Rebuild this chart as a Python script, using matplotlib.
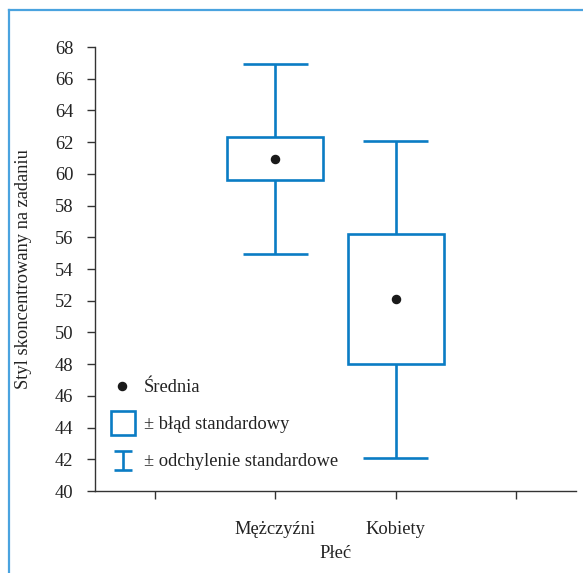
import numpy as np
import matplotlib
matplotlib.use("Agg")
import matplotlib.pyplot as plt
from matplotlib.lines import Line2D
from matplotlib.patches import Rectangle

# ----------------------------
# Data
# ----------------------------
groups = ["Mężczyźni", "Kobiety"]
positions = [2, 3]
means = [60.95, 52.1]
std_err = [1.35, 4.1]
std_dev = [6.0, 10.0]

y_ticks = np.arange(40, 69, 2)
x_ticks = [1, 2, 3, 4]

BLUE = "#0a7cc4"
FRAME = "#4aa3df"
AXC = "#333333"
TXT = "#222222"

plt.rcParams["font.family"] = ["Liberation Serif", "DejaVu Serif"]
plt.rcParams["font.size"] = 13.3

fig = plt.figure(figsize=(5.83, 5.73), dpi=100)
ax = fig.add_axes([95 / 583, 82 / 573, 481 / 583, 444 / 573])

box_w = 0.8
cap_w = 0.54

# boxes (± standard error) and whiskers (± standard deviation)
ax.bar(positions, [2 * s for s in std_err],
       bottom=[m - s for m, s in zip(means, std_err)],
       width=box_w, facecolor="white", edgecolor=BLUE, linewidth=1.9, zorder=2)
for x, m, se, sd in zip(positions, means, std_err, std_dev):
    ax.vlines(x, m + se, m + sd, color=BLUE, lw=1.9, zorder=1)
    ax.vlines(x, m - sd, m - se, color=BLUE, lw=1.9, zorder=1)
    ax.hlines([m + sd, m - sd], x - cap_w / 2, x + cap_w / 2, color=BLUE, lw=1.9)
ax.scatter(positions, means, s=34, color="#1a1a1a", zorder=3)

ax.set_xlim(0.5, 4.5)
ax.set_ylim(40, 68)
ax.set_yticks(y_ticks)
ax.set_xticks(x_ticks)
ax.set_xticklabels(["", groups[0], groups[1], ""])

for side in ["top", "right"]:
    ax.spines[side].set_visible(False)
for side in ["left", "bottom"]:
    ax.spines[side].set_color(AXC)
    ax.spines[side].set_linewidth(1.0)
ax.tick_params(axis="y", direction="out", length=6, width=1, pad=9.5, colors=AXC, labelcolor=TXT)
ax.tick_params(axis="x", direction="out", length=6, width=1, pad=15.5, colors=AXC, labelcolor=TXT)

ax.set_ylabel("Styl skoncentrowany na zadaniu", color=TXT)
ax.yaxis.set_label_coords(-0.131, 0.5)
ax.set_xlabel("Płeć", color=TXT, va="center")
ax.xaxis.set_label_coords(0.5, -0.14)

# legend drawn by hand
ax.scatter([0.725], [46.62], s=34, color="#1a1a1a", clip_on=False)
ax.text(0.905, 46.55, "Średnia", va="center", ha="left", color=TXT)
ax.add_patch(Rectangle((0.635, 43.55), 0.195, 1.5, facecolor="white",
                       edgecolor=BLUE, linewidth=1.9))
ax.text(0.905, 44.2, "± błąd standardowy", va="center", ha="left", color=TXT)
ax.vlines(0.733, 41.3, 42.5, color=BLUE, lw=1.9)
ax.hlines([41.3, 42.5], 0.66, 0.806, color=BLUE, lw=1.9)
ax.text(0.905, 41.85, "± odchylenie standardowe", va="center", ha="left", color=TXT)

# light blue frame around the figure (open at right/bottom edges)
fig.add_artist(Line2D([9 / 583, 9 / 583], [0, 1 - 10 / 573], color=FRAME, lw=1.6,
                      transform=fig.transFigure))
fig.add_artist(Line2D([9 / 583, 1.0], [1 - 10 / 573, 1 - 10 / 573], color=FRAME, lw=1.6,
                      transform=fig.transFigure))

fig.savefig("out.png", dpi=100)
